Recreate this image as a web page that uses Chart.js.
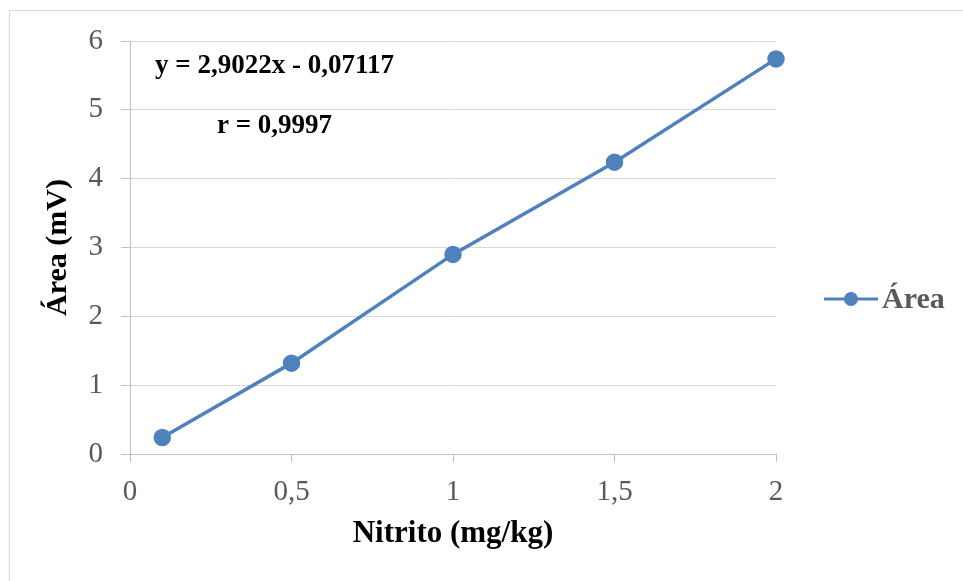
<!DOCTYPE html>
<html>
<head>
<meta charset="utf-8">
<script src="https://cdn.jsdelivr.net/npm/chart.js@4"></script>
<style>
    html, body { margin: 0; padding: 0; background: #ffffff; }
    #wrap { width: 963px; height: 581px; }
</style>
</head>
<body>
<div id="wrap"><canvas id="grafico" width="963" height="581"></canvas></div>
<script>
// Datos de la curva de calibración
const nitrito = [0.1, 0.5, 1, 1.5, 2];
const area = [0.24, 1.32, 2.90, 4.24, 5.74];
const ticksX = [0, 0.5, 1, 1.5, 2];
const ticksY = [0, 1, 2, 3, 4, 5, 6];
const ecuacion = 'y = 2,9022x - 0,07117';
const coefR = 'r = 0,9997';

const azul = '#4F81BD';
const gris = '#595959';
const fuente = '"Liberation Serif", "Times New Roman", serif';

// Marco, ecuación y leyenda dibujados sobre el canvas
const extras = {
    id: 'extras',
    beforeDraw(chart) {
        const ctx = chart.ctx;
        ctx.save();
        ctx.strokeStyle = '#D9D9D9';
        ctx.lineWidth = 1;
        ctx.strokeRect(9.5, 10.5, 1000, 1000);
        ctx.restore();
    },
    afterDraw(chart) {
        const ctx = chart.ctx;
        const a = chart.chartArea;
        ctx.save();
        ctx.fillStyle = '#000000';
        ctx.font = 'bold 27px ' + fuente;
        ctx.textBaseline = 'alphabetic';
        ctx.fillText(ecuacion, a.left + 25, a.top + 32);
        ctx.fillText(coefR, a.left + 87, a.top + 92);

        // leyenda
        const ly = 299;
        const lx = a.right + 48;
        ctx.strokeStyle = azul;
        ctx.lineWidth = 3;
        ctx.beginPath();
        ctx.moveTo(lx, ly);
        ctx.lineTo(lx + 54, ly);
        ctx.stroke();
        ctx.fillStyle = azul;
        ctx.beginPath();
        ctx.arc(lx + 27, ly, 7, 0, Math.PI * 2);
        ctx.fill();
        ctx.fillStyle = gris;
        ctx.font = 'bold 30px ' + fuente;
        ctx.fillText('Área', lx + 58, ly + 9);
        ctx.restore();
    }
};

new Chart(document.getElementById('grafico'), {
    type: 'line',
    data: {
        datasets: [{
            label: 'Área',
            data: nitrito.map((x, i) => ({ x: x, y: area[i] })),
            borderColor: azul,
            backgroundColor: azul,
            borderWidth: 3.5,
            pointRadius: 7,
            pointHoverRadius: 7,
            tension: 0,
            clip: false
        }]
    },
    options: {
        responsive: false,
        animation: false,
        layout: { padding: { left: 0, top: 41, right: 187, bottom: 0 } },
        plugins: {
            legend: { display: false },
            tooltip: { enabled: false }
        },
        scales: {
            x: {
                type: 'linear',
                min: 0,
                max: 2,
                afterBuildTicks: s => { s.ticks = ticksX.map(v => ({ value: v })); },
                afterFit: s => { s.height = 127; },
                ticks: {
                    color: gris,
                    font: { family: fuente, size: 29 },
                    padding: 13,
                    callback: v => String(v).replace('.', ',')
                },
                grid: {
                    drawOnChartArea: false,
                    drawTicks: true,
                    tickLength: 8,
                    tickColor: '#BFBFBF'
                },
                border: { color: '#BFBFBF', width: 1 },
                title: {
                    display: true,
                    text: 'Nitrito (mg/kg)',
                    color: '#000000',
                    font: { family: fuente, size: 31, weight: 'bold' },
                    padding: { top: 0, bottom: 28 }
                }
            },
            y: {
                min: 0,
                max: 6,
                afterBuildTicks: s => { s.ticks = ticksY.map(v => ({ value: v })); },
                afterFit: s => { s.width = 130; },
                ticks: {
                    color: gris,
                    font: { family: fuente, size: 29 },
                    padding: 18
                },
                grid: {
                    color: '#D9D9D9',
                    lineWidth: 1,
                    drawTicks: true,
                    tickLength: 9,
                    tickColor: '#BFBFBF'
                },
                border: { color: '#BFBFBF', width: 1 },
                title: {
                    display: true,
                    text: 'Área (mV)',
                    color: '#000000',
                    font: { family: fuente, size: 30, weight: 'bold' },
                    padding: { top: 40, bottom: 0 }
                }
            }
        }
    },
    plugins: [extras]
});
</script>
</body>
</html>
